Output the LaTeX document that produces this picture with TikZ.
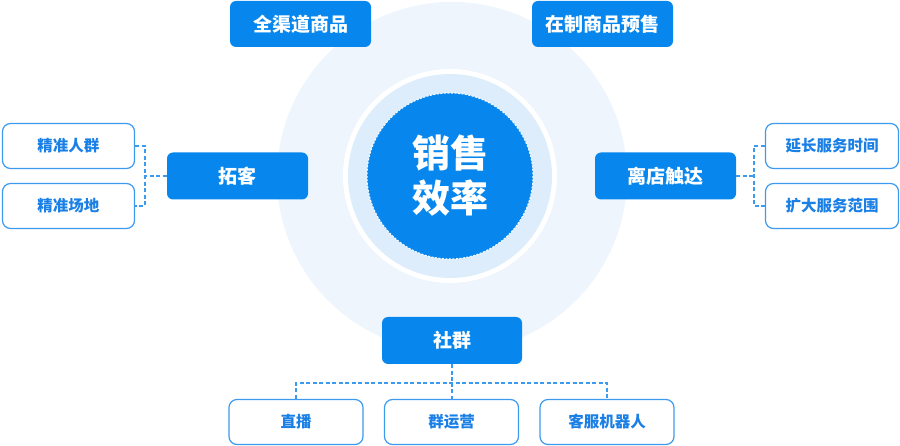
\documentclass[tikz,border=0pt]{standalone}
\usepackage{fontspec}
\newfontfamily\cjk{Noto Sans CJK SC}
\usetikzlibrary{calc}

\definecolor{mainblue}{HTML}{0787EE}
\definecolor{lineblue}{HTML}{3D9BEF}
\definecolor{textblue}{HTML}{1A80E6}
\definecolor{paleblue}{HTML}{EEF5FD}
\definecolor{ringblue}{HTML}{DDEDFB}

\tikzset{
  mainbox/.style={fill=mainblue, rounded corners=6pt, inner sep=0pt,
    minimum width=141pt, minimum height=47pt, text=white,
    font=\cjk\bfseries\fontsize{19}{19}\selectfont},
  subbox/.style={draw=lineblue, line width=1.2pt, fill=white, rounded corners=8pt,
    inner sep=0pt, minimum width=133pt, minimum height=45pt, text=textblue,
    font=\cjk\bfseries\fontsize{15.5}{16}\selectfont},
  link/.style={draw=lineblue, line width=1.3pt, dash pattern=on 4pt off 2.5pt}
}

\begin{document}
\begin{tikzpicture}[x=1pt,y=-1pt]
    \useasboundingbox (0,0) rectangle (900,446);
    % circles in the middle
    \fill[paleblue] (452,177) circle (175);
    \fill[white] (450,176) circle (107);
    \fill[ringblue] (450,176) circle (102);
    \draw[white, line width=1pt, dash pattern=on 2pt off 1.5pt, fill=mainblue]
      (450,176) circle (83);
    \node[text=white, align=center, font=\cjk\bfseries\fontsize{38}{45}\selectfont]
      (xiaolv) at (450,176) {销售\\效率};
    % main boxes
    \node[mainbox, minimum height=46pt] (quanqudao) at (300.5,24) {全渠道商品};
    \node[mainbox, minimum height=46pt] (zaizhi) at (602.5,24) {在制商品预售};
    \node[mainbox] (tuoke) at (237.5,176) {拓客};
    \node[mainbox] (lidian) at (665.5,176) {离店触达};
    \node[mainbox, minimum width=140pt] (shequn) at (452,340.5) {社群};
    % sub boxes
    \node[subbox, minimum width=132pt] (renqun) at (68.5,146) {精准人群};
    \node[subbox, minimum width=132pt] (changdi) at (68.5,206) {精准场地};
    \node[subbox] (yanchang) at (832,146) {延长服务时间};
    \node[subbox] (kuoda) at (832,206) {扩大服务范围};
    \node[subbox, minimum width=134pt] (zhibo) at (296,422) {直播};
    \node[subbox, minimum width=134pt] (qunyunying) at (451.5,422) {群运营};
    \node[subbox, minimum width=134pt] (kefu) at (607,422) {客服机器人};
    % connectors
    \coordinate (tk) at (145,176);
    \coordinate (ld) at (754,176);
    \coordinate (sq) at (452,383);
    \draw[link] (tuoke.west) -- (tk);
    \draw[link] (renqun.east) -| (tk) |- (changdi.east);
    \draw[link] (lidian.east) -- (ld);
    \draw[link] (yanchang.west) -| (ld) |- (kuoda.west);
    \draw[link] (shequn.south) -- (sq);
    \draw[link] (sq) -- (sq |- qunyunying.north);
    \draw[link] (zhibo.north) |- (sq) -| (kefu.north);
\end{tikzpicture}
\end{document}
